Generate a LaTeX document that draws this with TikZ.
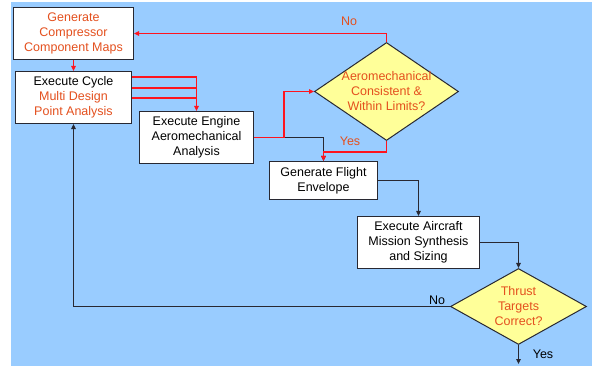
\documentclass[tikz,border=0pt]{standalone}
\usepackage{fontspec}
\setmainfont{Liberation Sans}
\usetikzlibrary{shapes.geometric,arrows.meta,calc}
\definecolor{bgblue}{HTML}{99CCFF}
\definecolor{diafill}{HTML}{FFFF99}
\definecolor{txtred}{RGB}{228,80,30}
\definecolor{linered}{RGB}{255,20,30}
\definecolor{linedark}{RGB}{40,40,50}
\tikzset{
  stepbox/.style={draw=linedark, line width=1.1pt, fill=white, align=center, inner sep=0pt,
    font=\fontsize{12.5}{15}\selectfont},
  decision/.style={diamond, draw=linedark, line width=1pt, fill=diafill, inner sep=0pt},
  dtext/.style={align=center, text=txtred, font=\fontsize{12.5}{15}\selectfont},
  lbl/.style={font=\fontsize{12.5}{15}\selectfont, inner sep=0pt},
  conn/.style={draw=linedark, line width=1pt},
  rconn/.style={draw=linered, line width=1.4pt},
  tip/.style={-{Triangle[length=5pt,width=4.5pt]}}
}
\begin{document}
\begin{tikzpicture}[x=1pt,y=-1pt]
\useasboundingbox (0,0) rectangle (592,366);
\fill[bgblue] (11,2) rectangle (592,366);

% boxes
\node[stepbox, text=txtred, minimum width=120pt, minimum height=52pt] (b1) at (73.5,33.5)
  {Generate\\Compressor\\Component Maps};
\node[stepbox, minimum width=116pt, minimum height=52pt] (b2) at (73.5,97.5)
  {Execute Cycle\\\textcolor{txtred}{Multi Design}\\\textcolor{txtred}{Point Analysis}};
\node[stepbox, minimum width=114pt, minimum height=52pt] (b3) at (196.5,137.5)
  {Execute Engine\\Aeromechanical\\Analysis};
\node[stepbox, minimum width=108pt, minimum height=38pt] (b4) at (323.5,180.5)
  {Generate Flight\\Envelope};
\node[stepbox, minimum width=122pt, minimum height=52pt] (b5) at (418.5,242.5)
  {Execute Aircraft\\Mission Synthesis\\and Sizing};

% decisions
\node[decision, minimum width=144pt, minimum height=98pt] (d1) at (386.5,91.5) {};
\node[dtext] (d1t) at (d1.center) {Aeromechanical\\Consistent \&\\Within Limits?};
\node[decision, minimum width=136pt, minimum height=76pt] (d2) at (518.5,306.5) {};
\node[dtext] (d2t) at (d2.center) {Thrust\\Targets\\Correct?};

\coordinate (fin) at (518.5,364);

% connectors
\draw[rconn,tip] (d1.north) |- (b1.east);
\node[lbl, text=txtred] (no1) at (349,21) {No};
\draw[rconn,tip] (b1.south) -- (b2.north);

\coordinate (p1) at ($(b2.north east)+(0,6)$);
\coordinate (p2) at ($(b2.north east)+(0,17)$);
\coordinate (p3) at ($(b2.north east)+(0,27)$);
\draw[rconn] (p2) -- (p2 -| b3.north);
\draw[rconn] (p3) -- (p3 -| b3.north);
\draw[rconn,tip] (p1) -| (b3.north);

\draw[conn,tip] (b3.east) -| (b4.north);
\draw[rconn,tip] (b3.east) -- ++(30,0) |- (d1.west);
\draw[rconn,tip] (d1.south) -- ++(0,11) -| (b4.north);
\node[lbl, text=txtred] (yes1) at (350,141) {Yes};

\draw[conn,tip] (b4.east) -| (b5.north);
\draw[conn,tip] (b5.east) -| (d2.north);
\draw[conn,tip] (d2.west) -| (b2.south);
\node[lbl] (no2) at (437,300) {No};
\draw[conn,tip] (d2.south) -- (fin);
\node[lbl] (yes2) at (543,354) {Yes};
\end{tikzpicture}
\end{document}
